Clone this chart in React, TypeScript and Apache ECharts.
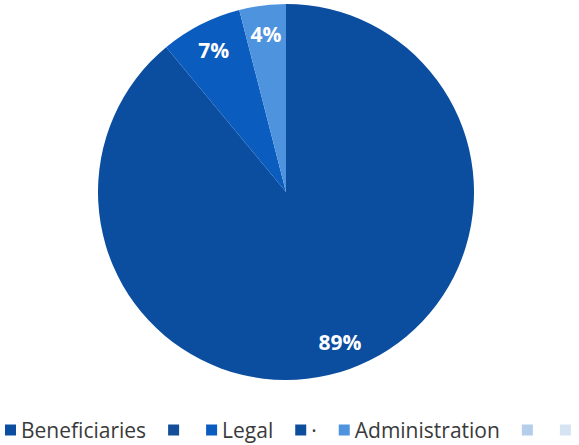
import React, { useEffect, useRef } from "react";
import * as echarts from "echarts";

const categories = ["Beneficiaries", "blank1", "Legal", "blank2", "Administration", "blank3", "blank4"];
const legendLabels = ["Beneficiaries", "", "Legal", "·", "Administration", "", ""];
const values = [89, 0, 7, 0, 4, 0, 0];
const colors = ["#0B4EA0", "#124F98", "#0A5CBE", "#0C4D9C", "#4E93DE", "#B3CDEB", "#D6E3F2"];

export default function App() {
  const ref = useRef<HTMLDivElement>(null);
  useEffect(() => {
    if (!ref.current) return;
    const chart = echarts.init(ref.current, undefined, { renderer: "svg" });
    const data = categories.map((name, i) => ({
      name,
      value: values[i],
      itemStyle: { color: colors[i] },
    }));
    const labelMap: Record<string, string> = {};
    categories.forEach((c, i) => (labelMap[c] = legendLabels[i]));
    chart.setOption({
      animation: false,
      backgroundColor: "#ffffff",
      legend: {
        left: 5,
        top: 418,
        padding: 0,
        icon: "rect",
        itemWidth: 11,
        itemHeight: 11,
        itemGap: 22,
        data: categories,
        formatter: (n: string) => labelMap[n],
        textStyle: { fontFamily: "Open Sans", fontSize: 21, color: "#3a3a3a", lineHeight: 24 },
      },
      series: [
        {
          type: "pie",
          center: [286, 192],
          radius: [0, 188],
          startAngle: 90,
          clockwise: true,
          silent: true,
          label: { show: false },
          labelLine: { show: false },
          itemStyle: { borderWidth: 0 },
          data,
        },
        {
          type: "pie",
          center: [286, 192],
          radius: [124, 188],
          startAngle: 90,
          clockwise: true,
          silent: true,
          itemStyle: { color: "rgba(0,0,0,0)", borderWidth: 0 },
          label: {
            show: true,
            position: "inside",
            formatter: (p: any) => (p.value > 0 ? p.value + "%" : ""),
            color: "#ffffff",
            fontWeight: "bold",
            fontSize: 21,
            fontFamily: "Open Sans",
          },
          labelLine: { show: false },
          data: categories.map((name, i) => ({ name, value: values[i] })),
        },
      ],
    });
    return () => chart.dispose();
  }, []);
  return (
    <div
      ref={ref}
      style={{ position: "fixed", left: 0, top: 0, width: 579, height: 445 }}
    />
  );
}
